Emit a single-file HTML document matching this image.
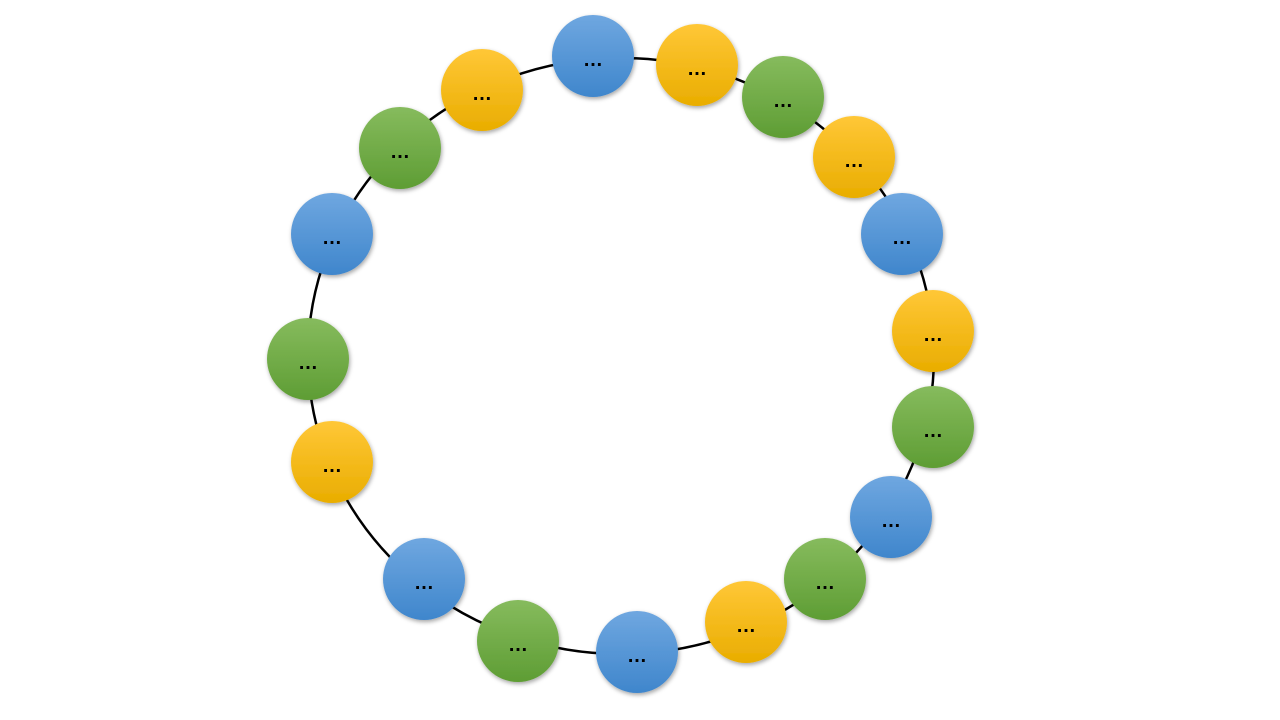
<!DOCTYPE html>
<html>
<head>
<meta charset="utf-8">
<style>
  html,body{margin:0;padding:0;background:#fff;}
  svg{display:block;}
  text{font-family:"Liberation Sans",sans-serif;}
</style>
</head>
<body>
<svg id="chart" width="1280" height="720" viewBox="0 0 1280 720">
  <defs>
    <linearGradient id="gb" x1="0" y1="0" x2="0" y2="1">
      <stop offset="0" stop-color="#6fa7e0"/><stop offset="1" stop-color="#3f86cc"/>
    </linearGradient>
    <linearGradient id="gy" x1="0" y1="0" x2="0" y2="1">
      <stop offset="0" stop-color="#ffc737"/><stop offset="1" stop-color="#e9ad00"/>
    </linearGradient>
    <linearGradient id="gg" x1="0" y1="0" x2="0" y2="1">
      <stop offset="0" stop-color="#86bb5d"/><stop offset="1" stop-color="#5e9d34"/>
    </linearGradient>
    <filter id="sh" x="-30%" y="-30%" width="160%" height="160%">
      <feDropShadow dx="1" dy="2" stdDeviation="2" flood-color="#000" flood-opacity="0.35"/>
    </filter>
  </defs>
  <ellipse cx="621" cy="356" rx="313" ry="298" fill="none" stroke="#000" stroke-width="2.5"/>
  <g id="nodes"></g>
</svg>
<script>
const nodeX = [593,697,783,854,902,933,933,891,825,746,637,518,424,332,308,332,400,482];
const nodeY = [56,65,97,157,234,331,427,517,579,622,652,641,579,462,359,234,148,90];
const nodeColor = ['b','y','g','y','b','y','g','b','g','y','b','g','b','y','g','b','g','y'];
const nodeLabel = nodeX.map(()=> '…');
const R = 41;
const ns = 'http://www.w3.org/2000/svg';
const g = document.getElementById('nodes');
nodeX.forEach((x,i)=>{
  const y = nodeY[i];
  const grp = document.createElementNS(ns,'g');
  
  
  const c = document.createElementNS(ns,'circle');
  c.setAttribute('cx',x); c.setAttribute('cy',y); c.setAttribute('r',R);
  c.setAttribute('fill','url(#g'+nodeColor[i]+')');
  c.setAttribute('filter','url(#sh)');
  
  
  const t = document.createElementNS(ns,'text');
  t.setAttribute('x',x); t.setAttribute('y',y+10);
  t.setAttribute('text-anchor','middle');
  t.setAttribute('font-size','20');
  t.setAttribute('font-weight','bold');
  t.setAttribute('fill','#000');
  
  
  t.textContent = nodeLabel[i];
  grp.appendChild(c); grp.appendChild(t);
  g.appendChild(grp);
});
</script>
</body>
</html>
